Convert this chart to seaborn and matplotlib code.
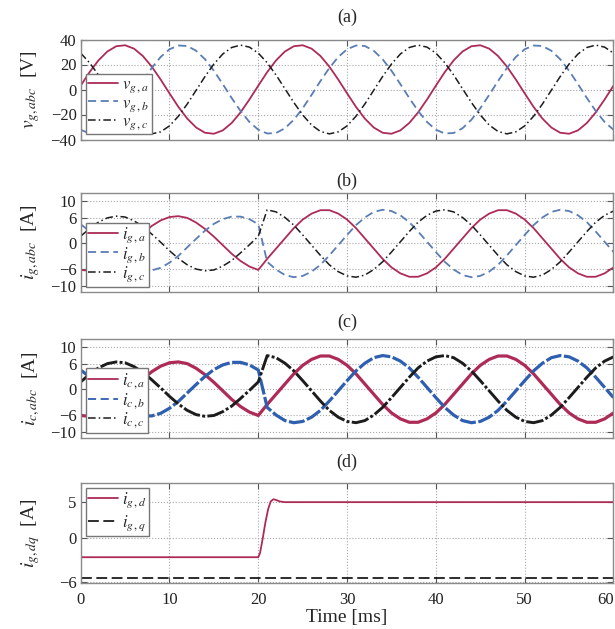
import numpy as np
import pandas as pd
import seaborn as sns
import matplotlib.pyplot as plt
from matplotlib.lines import Line2D

# time axis, 1 ms steps
t_ms = list(range(0, 61))

# (a) grid voltages [V]
v_g_a = [3.1, 13.9, 23.3, 30.4, 34.6, 35.4, 32.7, 26.8, 18.3, 8.0,
         -3.1, -13.9, -23.3, -30.4, -34.6, -35.4, -32.7, -26.8, -18.3, -8.0,
         3.1, 13.9, 23.3, 30.4, 34.6, 35.4, 32.7, 26.8, 18.3, 8.0,
         -3.1, -13.9, -23.3, -30.4, -34.6, -35.4, -32.7, -26.8, -18.3, -8.0,
         3.1, 13.9, 23.3, 30.4, 34.6, 35.4, 32.7, 26.8, 18.3, 8.0,
         -3.1, -13.9, -23.3, -30.4, -34.6, -35.4, -32.7, -26.8, -18.3, -8.0,
         3.1]
v_g_b = [-32.2, -35.2, -34.8, -31.0, -24.2, -15.0, -4.3, 6.8, 17.2, 26.0,
         32.2, 35.2, 34.8, 31.0, 24.2, 15.0, 4.3, -6.8, -17.2, -26.0,
         -32.2, -35.2, -34.8, -31.0, -24.2, -15.0, -4.3, 6.8, 17.2, 26.0,
         32.2, 35.2, 34.8, 31.0, 24.2, 15.0, 4.3, -6.8, -17.2, -26.0,
         -32.2, -35.2, -34.8, -31.0, -24.2, -15.0, -4.3, 6.8, 17.2, 26.0,
         32.2, 35.2, 34.8, 31.0, 24.2, 15.0, 4.3, -6.8, -17.2, -26.0,
         -32.2]
v_g_c = [29.1, 21.4, 11.6, 0.6, -10.4, -20.4, -28.4, -33.6, -35.5, -33.9,
         -29.1, -21.4, -11.6, -0.6, 10.4, 20.4, 28.4, 33.6, 35.5, 33.9,
         29.1, 21.4, 11.6, 0.6, -10.4, -20.4, -28.4, -33.6, -35.5, -33.9,
         -29.1, -21.4, -11.6, -0.6, 10.4, 20.4, 28.4, 33.6, 35.5, 33.9,
         29.1, 21.4, 11.6, 0.6, -10.4, -20.4, -28.4, -33.6, -35.5, -33.9,
         -29.1, -21.4, -11.6, -0.6, 10.4, 20.4, 28.4, 33.6, 35.5, 33.9,
         29.1]

# (b) grid currents [A], step in reference at 20 ms
i_g_a = [-6.2, -6.4, -6.0, -4.9, -3.4, -1.6, 0.4, 2.4, 4.1, 5.4,
         6.2, 6.4, 6.0, 4.9, 3.4, 1.6, -0.4, -2.4, -4.1, -5.4, -6.2,
         -3.6, -1.2, 1.2, 3.6, 5.6, 7.0, 7.8, 7.8, 7.0, 5.6,
         3.6, 1.2, -1.2, -3.6, -5.6, -7.0, -7.8, -7.8, -7.0, -5.6,
         -3.6, -1.2, 1.2, 3.6, 5.6, 7.0, 7.8, 7.8, 7.0, 5.6,
         3.6, 1.2, -1.2, -3.6, -5.6, -7.0, -7.8, -7.8, -7.0, -5.6]
i_g_b = [4.5, 2.9, 0.9, -1.1, -3.0, -4.6, -5.7, -6.3, -6.3, -5.7,
         -4.5, -2.9, -0.9, 1.1, 3.0, 4.6, 5.7, 6.3, 6.3, 5.7, 4.5,
         -4.3, -6.1, -7.4, -7.9, -7.6, -6.6, -5.0, -2.8, -0.4, 2.0,
         4.3, 6.1, 7.4, 7.9, 7.6, 6.6, 5.0, 2.8, 0.4, -2.0,
         -4.3, -6.1, -7.4, -7.9, -7.6, -6.6, -5.0, -2.8, -0.4, 2.0,
         4.3, 6.1, 7.4, 7.9, 7.6, 6.6, 5.0, 2.8, 0.4, -2.0]
i_g_c = [1.7, 3.5, 5.0, 6.0, 6.4, 6.2, 5.3, 4.0, 2.2, 0.3,
         -1.7, -3.5, -5.0, -6.0, -6.4, -6.2, -5.3, -4.0, -2.2, -0.3, 1.7,
         7.9, 7.4, 6.1, 4.3, 2.0, -0.4, -2.8, -5.0, -6.6, -7.6,
         -7.9, -7.4, -6.1, -4.3, -2.0, 0.4, 2.8, 5.0, 6.6, 7.6,
         7.9, 7.4, 6.1, 4.3, 2.0, -0.4, -2.8, -5.0, -6.6, -7.6,
         -7.9, -7.4, -6.1, -4.3, -2.0, 0.4, 2.8, 5.0, 6.6, 7.6]

# (c) converter currents follow the same waveforms as (b) in the reference
i_c_a = i_g_a
i_c_b = i_g_b
i_c_c = i_g_c

# (d) dq currents
t_dq = [0, 20, 20.2, 20.5, 20.8, 21.1, 21.4, 21.7, 22.0, 22.4, 23.0, 24.0, 60]
i_g_d = [-2.6, -2.6, -2.0, 0.0, 2.2, 4.0, 5.1, 5.4, 5.3, 5.1, 5.0, 5.0, 5.0]
t_q = [0, 60]
i_g_q = [-5.4, -5.4]

RED = '#ad2b55'
BLUE = '#5a7db5'
BLUE_C = '#2f5fb0'
BLACK = '#1c1c1c'
DASH = (0, (4.5, 2.5))
DASHDOT = (0, (5, 2, 1, 2))

sns.set_style('ticks')
plt.rcParams['font.family'] = ['Liberation Serif', 'DejaVu Serif']
plt.rcParams['mathtext.fontset'] = 'stix'

W, H = 615, 629
fig = plt.figure(figsize=(W / 100, H / 100), dpi=100)


def add_axes(top, bottom):
    return fig.add_axes([80.7 / W, 1 - bottom / H, (613.5 - 80.7) / W, (bottom - top) / H])


def style_axes(ax, ylim, yticks, title, pad, ylabel, show_x=False):
    ax.set_xlim(0, 60)
    ax.set_ylim(*ylim)
    ax.set_xticks(range(0, 61, 10))
    ax.set_yticks(yticks)
    ax.grid(True, ls=':', lw=0.8, color='#a8a8a8')
    for s in ax.spines.values():
        s.set_color('#8a8a8a')
        s.set_linewidth(1.0)
    ax.tick_params(direction='in', length=4, width=0.8, color='#555555',
                   top=True, right=True, labelsize=12, pad=3, labelcolor='#222222')
    ax.tick_params(axis='x', pad=6)
    if not show_x:
        ax.tick_params(labelbottom=False)
    ax.set_xlabel('')
    ax.set_title(title, fontsize=13, pad=pad)
    ax.set_ylabel(ylabel, fontsize=14)
    ax.yaxis.set_label_coords(-0.073, 0.5)


def add_legend(ax, handles, labels, loc, spacing):
    leg = ax.legend(handles, labels, loc=loc, fontsize=12, frameon=True, fancybox=False,
                    edgecolor='#777777', framealpha=1, borderpad=0.15, labelspacing=spacing,
                    handlelength=1.8, handletextpad=0.25, borderaxespad=0.3)
    leg.get_frame().set_linewidth(1.0)


ax_a = add_axes(39.5, 139.5)
ax_b = add_axes(192.7, 291.7)
ax_c = add_axes(339, 438)
ax_d = add_axes(483.3, 583.3)

# (a)
sns.lineplot(x=t_ms, y=v_g_a, ax=ax_a, color=RED, lw=1.3, linestyle='-', estimator=None)
sns.lineplot(x=t_ms, y=v_g_b, ax=ax_a, color=BLUE, lw=1.3, linestyle=DASH, estimator=None)
sns.lineplot(x=t_ms, y=v_g_c, ax=ax_a, color=BLACK, lw=1.1, linestyle=DASHDOT, estimator=None)
style_axes(ax_a, (-40, 40), [-40, -20, 0, 20, 40], '(a)', 13, r'$v_{g,abc}$  [V]')
add_legend(ax_a, ax_a.get_lines()[:3],
           [r'$v_{g\,,a}$', r'$v_{g\,,b}$', r'$v_{g\,,c}$'], 'lower left', 0.0)

# (b)
sns.lineplot(x=t_ms, y=i_g_a, ax=ax_b, color=RED, lw=1.3, linestyle='-', estimator=None)
sns.lineplot(x=t_ms, y=i_g_b, ax=ax_b, color=BLUE, lw=1.3, linestyle=DASH, estimator=None)
sns.lineplot(x=t_ms, y=i_g_c, ax=ax_b, color=BLACK, lw=1.1, linestyle=DASHDOT, estimator=None)
style_axes(ax_b, (-11.3, 11.9), [-10, -6, 0, 6, 10], '(b)', 5, r'$i_{g,abc}$  [A]')
add_legend(ax_b, ax_b.get_lines()[:3],
           [r'$i_{g\,,a}$', r'$i_{g\,,b}$', r'$i_{g\,,c}$'], 'lower left', 0.0)

# (c) thicker traces because of switching ripple
sns.lineplot(x=t_ms, y=i_c_a, ax=ax_c, color=RED, lw=2.3, linestyle='-', estimator=None)
sns.lineplot(x=t_ms, y=i_c_b, ax=ax_c, color=BLUE_C, lw=2.3, linestyle=(0, (5, 0.8)), estimator=None)
sns.lineplot(x=t_ms, y=i_c_c, ax=ax_c, color=BLACK, lw=2.1, linestyle=(0, (6, 0.8, 1, 0.8)), estimator=None)
style_axes(ax_c, (-11.5, 11.8), [-10, -6, 0, 6, 10], '(c)', 9, r'$i_{c,abc}$  [A]')
handles_c = [Line2D([], [], color=RED, lw=1.3, ls='-'),
             Line2D([], [], color=BLUE_C, lw=1.3, ls=DASH),
             Line2D([], [], color=BLACK, lw=1.1, ls=DASHDOT)]
add_legend(ax_c, handles_c, [r'$i_{c\,,a}$', r'$i_{c\,,b}$', r'$i_{c\,,c}$'], 'lower left', 0.0)

# (d)
sns.lineplot(x=t_dq, y=i_g_d, ax=ax_d, color=RED, lw=1.3, linestyle='-', estimator=None)
sns.lineplot(x=t_q, y=i_g_q, ax=ax_d, color=BLACK, lw=1.3, linestyle=(0, (6, 2.5)), estimator=None)
style_axes(ax_d, (-6.2, 7.6), [-6, 0, 5], '(d)', 12, r'$i_{g,dq}$  [A]', show_x=True)
ax_d.set_xlabel('Time [ms]', fontsize=14, labelpad=1)
# last tick label sits at the figure edge, keep it inside
ax_d.get_xticklabels()[-1].set_horizontalalignment('right')
add_legend(ax_d, ax_d.get_lines()[:2], [r'$i_{g\,,d}$', r'$i_{g\,,q}$'], 'upper left', 0.2)

plt.savefig('out.png', dpi=100)
